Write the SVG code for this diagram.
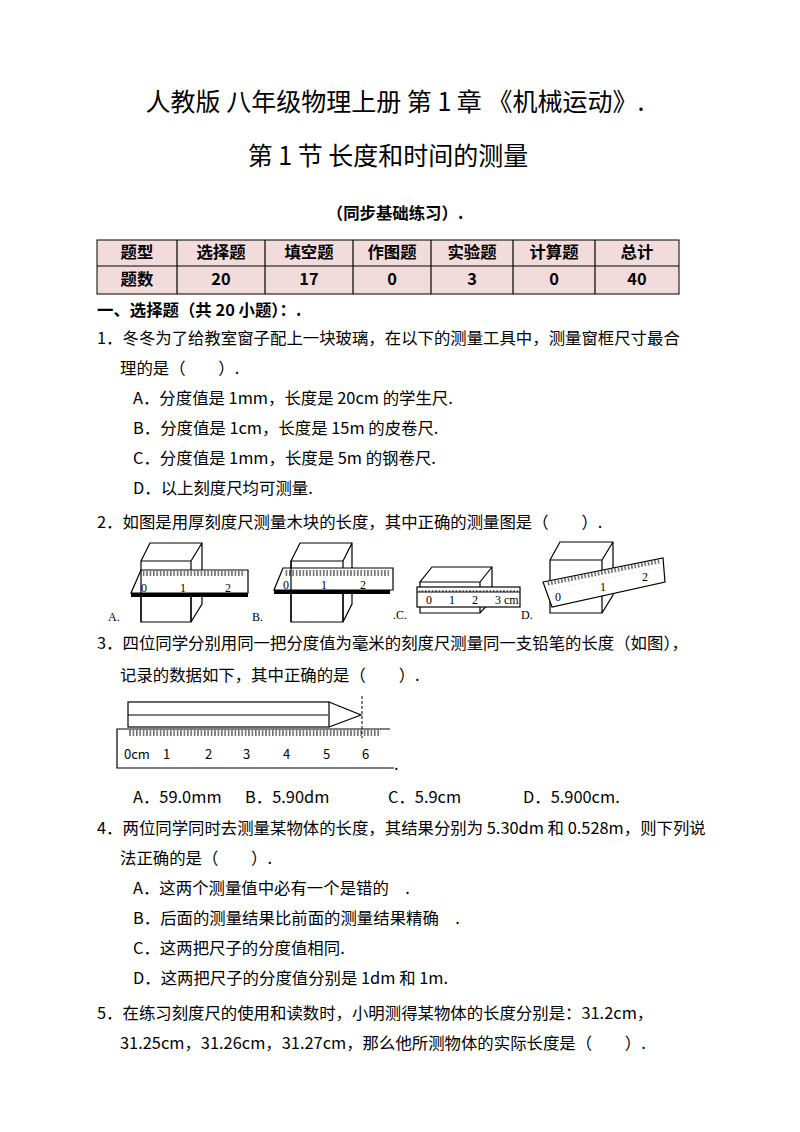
<svg xmlns="http://www.w3.org/2000/svg" width="800" height="1132" viewBox="0 0 800 1132">
<defs>
<style>
text{font-family:"Noto Sans CJK SC","Liberation Serif",serif;fill:#000}
.t{font-size:25px}
.b{font-size:16.4px}
.bd{font-weight:bold}
.s{font-size:12px;font-family:"Liberation Serif",serif}
.ln{stroke:#000;fill:none;stroke-width:1.2}
.fw{stroke:#000;fill:#fff;stroke-width:1.2}
</style>
<pattern id="tk" width="3.4" height="10" patternUnits="userSpaceOnUse"><line x1="0.8" y1="0" x2="0.8" y2="6" stroke="#000" stroke-width="0.9"/></pattern>
</defs>
<rect width="800" height="1132" fill="#fff"/>
<text class="t" x="395" y="111" text-anchor="middle">人教版  八年级物理上册  第 1 章 《机械运动》.</text>
<text class="t" x="388" y="165" text-anchor="middle">第 1 节  长度和时间的测量</text>
<text class="b bd" x="395" y="219" text-anchor="middle" font-size="17">（同步基础练习）.</text>
<g id="table">
<rect x="97" y="240" width="582" height="54" fill="#f2dcdb" stroke="#000" stroke-width="1"/>
<path class="ln" d="M97 266H679M177 240V294M265 240V294M353 240V294M431 240V294M513 240V294M595 240V294" stroke-width="1"/>
<g class="b bd" text-anchor="middle" font-size="14.5">
<text x="137" y="258">题型</text><text x="221" y="258">选择题</text><text x="309" y="258">填空题</text><text x="392" y="258">作图题</text><text x="472" y="258">实验题</text><text x="554" y="258">计算题</text><text x="637" y="258">总计</text>
<text x="137" y="285">题数</text><text x="221" y="285">20</text><text x="309" y="285">17</text><text x="392" y="285">0</text><text x="472" y="285">3</text><text x="554" y="285">0</text><text x="637" y="285">40</text>
</g>
</g>
<text class="b bd" x="97" y="316" font-size="15.5">一、选择题（共 20 小题）：.</text>
<g class="b">
<text x="97" y="344">1．冬冬为了给教室窗子配上一块玻璃，在以下的测量工具中，测量窗框尺寸最合</text>
<text x="120" y="374">理的是（　　）.</text>
<text x="133" y="404">A．分度值是 1mm，长度是 20cm 的学生尺.</text>
<text x="133" y="434">B．分度值是 1cm，长度是 15m 的皮卷尺.</text>
<text x="133" y="464">C．分度值是 1mm，长度是 5m 的钢卷尺.</text>
<text x="133" y="494">D．以上刻度尺均可测量.</text>
<text x="97" y="528">2．如图是用厚刻度尺测量木块的长度，其中正确的测量图是（　　）.</text>
<text x="97" y="649">3．四位同学分别用同一把分度值为毫米的刻度尺测量同一支铅笔的长度（如图），</text>
<text x="120" y="681">记录的数据如下，其中正确的是（　　）.</text>
<text x="133" y="803">A．59.0mm</text><text x="245" y="803">B．5.90dm</text><text x="388" y="803">C．5.9cm</text><text x="523" y="803">D．5.900cm.</text>
<text x="97" y="834">4．两位同学同时去测量某物体的长度，其结果分别为 5.30dm 和 0.528m，则下列说</text>
<text x="120" y="864">法正确的是（　　）.</text>
<text x="133" y="894">A．这两个测量值中必有一个是错的　.</text>
<text x="133" y="924">B．后面的测量结果比前面的测量结果精确　.</text>
<text x="133" y="954">C．这两把尺子的分度值相同.</text>
<text x="133" y="984">D．这两把尺子的分度值分别是 1dm 和 1m.</text>
<text x="97" y="1019">5．在练习刻度尺的使用和读数时，小明测得某物体的长度分别是：31.2cm，</text>
<text x="120" y="1049">31.25cm，31.26cm，31.27cm，那么他所测物体的实际长度是（　　）.</text>
</g>
<g id="figA">
<path class="ln" d="M141 561H191V622H141ZM141 561L150 543H202V604L191 622M191 561L202 543"/>
<path class="fw" d="M141 570H248V593H131Z"/>
<rect x="142" y="571" width="103" height="7" fill="url(#tk)"/>
<rect x="131" y="593" width="117" height="4" fill="#000"/>
<path class="ln" d="M141 570V622M191 597V622"/>
<text class="s" x="141" y="592">0</text><text class="s" x="180" y="592">1</text><text class="s" x="225" y="592">2</text>
<text class="s" x="108" y="621" font-size="13">A.</text>
</g>
<g id="figB">
<path class="ln" d="M291 561H343V622H291ZM291 561L300 543H352V604L343 622M343 561L352 543"/>
<path class="fw" d="M283 568H393V590H274Z"/>
<rect x="284" y="569" width="105" height="7" fill="url(#tk)"/>
<rect x="274" y="590" width="116" height="4" fill="#000"/>
<path class="ln" d="M291 561V622M343 594V622"/>
<text class="s" x="283" y="589">0</text><text class="s" x="321" y="589">1</text><text class="s" x="360" y="589">2</text>
<text class="s" x="252" y="621" font-size="13">B.</text>
</g>
<g id="figC">
<path class="ln" d="M420 582V613H480L492 600V567H432L420 582H480L492 567M480 582V613"/>
<rect x="417" y="587" width="103" height="20" class="fw"/>
<rect x="419" y="588" width="99" height="4" fill="url(#tk)"/>
<path class="ln" d="M417 592H520"/>
<text class="s" x="426" y="604" font-size="9">0</text><text class="s" x="449" y="604" font-size="9">1</text><text class="s" x="472" y="604" font-size="9">2</text><text class="s" x="495" y="604" font-size="9">3 cm</text>
<text class="s" x="393" y="619" font-size="13">.C.</text>
</g>
<g id="figD">
<path class="ln" d="M550 560H602V613H550ZM550 560L560 542H613V595L602 613M602 560L613 542"/>
<path class="fw" d="M543 582L663 558L665 582L552 607Z"/>
<rect x="546" y="582" width="116" height="8" fill="url(#tk)" transform="rotate(-11.3 546 582)"/>
<text class="s" x="555" y="601">0</text><text class="s" x="600" y="591">1</text><text class="s" x="642" y="581">2</text>
<text class="s" x="521" y="619" font-size="13">D.</text>
</g>
<g id="fig3">
<rect x="128" y="702" width="201" height="25" class="fw"/>
<path class="ln" d="M128 715H328M329 702L361 715L329 727"/>
<path d="M362 696V738" stroke="#000" stroke-dasharray="3,2"/>
<path class="ln" d="M390 729H117V768H394"/>
<rect x="128" y="729" width="253" height="8" fill="url(#tk)"/>
<text x="124" y="759" font-size="13" font-family="Liberation Sans,sans-serif">0cm</text>
<g font-size="13" font-family="Liberation Sans,sans-serif"><text x="163" y="759">1</text><text x="205" y="759">2</text><text x="243" y="759">3</text><text x="283" y="759">4</text><text x="323" y="759">5</text><text x="362" y="759">6</text></g>
<text class="b" x="394" y="770" font-size="10">.</text>
</g>
</svg>
